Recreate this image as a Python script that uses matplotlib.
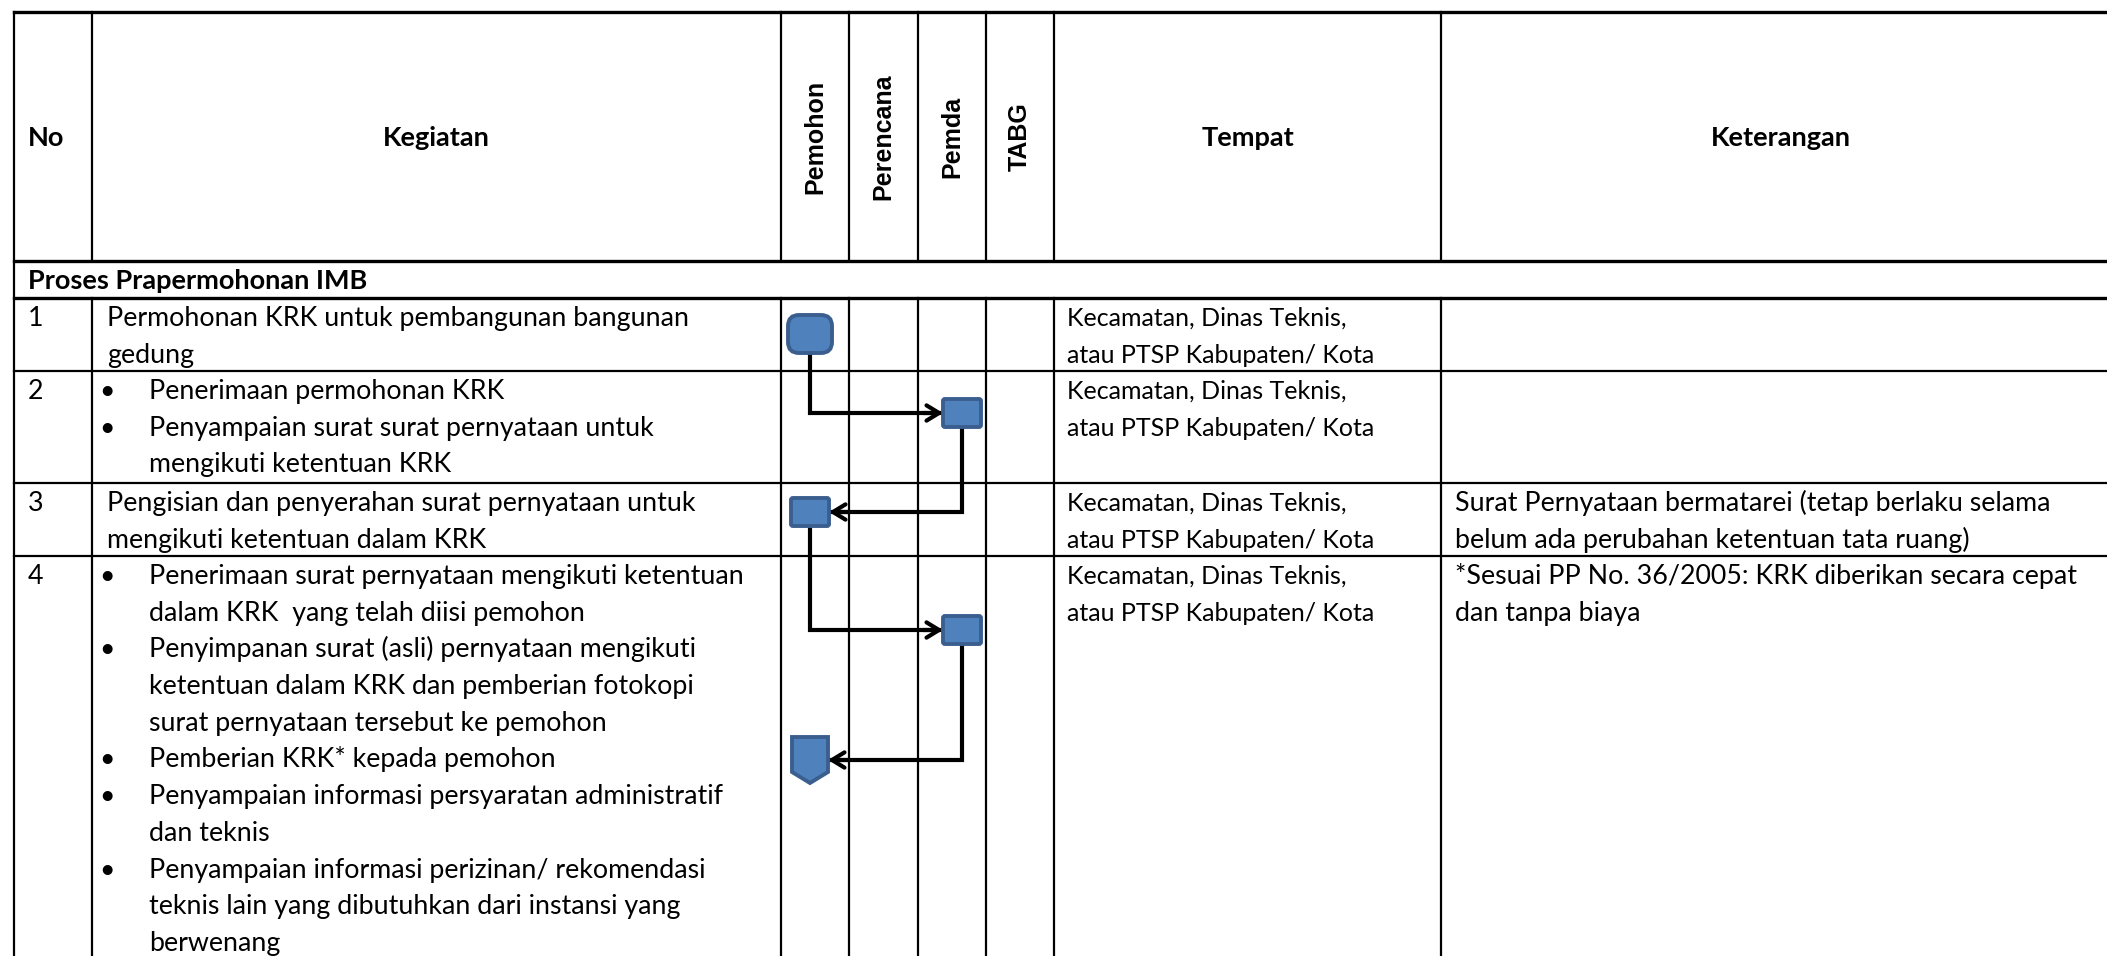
import matplotlib
matplotlib.use("Agg")
import matplotlib.pyplot as plt
from matplotlib.patches import FancyBboxPatch, Polygon

# --- table content ---
headers = ["No", "Kegiatan", "Tempat", "Keterangan"]
lanes = ["Pemohon", "Perencana", "Pemda", "TABG"]
section = "Proses Prapermohonan IMB"

nos = ["1", "2", "3", "4"]
kegiatan = [
    ["Permohonan KRK untuk pembangunan bangunan", "gedung"],
    [("•", "Penerimaan permohonan KRK"),
     ("•", "Penyampaian surat surat pernyataan untuk"),
     ("", "mengikuti ketentuan KRK")],
    ["Pengisian dan penyerahan surat pernyataan untuk", "mengikuti ketentuan dalam KRK"],
    [("•", "Penerimaan surat pernyataan mengikuti ketentuan"),
     ("", "dalam KRK  yang telah diisi pemohon"),
     ("•", "Penyimpanan surat (asli) pernyataan mengikuti"),
     ("", "ketentuan dalam KRK dan pemberian fotokopi"),
     ("", "surat pernyataan tersebut ke pemohon"),
     ("•", "Pemberian KRK* kepada pemohon"),
     ("•", "Penyampaian informasi persyaratan administratif"),
     ("", "dan teknis"),
     ("•", "Penyampaian informasi perizinan/ rekomendasi"),
     ("", "teknis lain yang dibutuhkan dari instansi yang"),
     ("", "berwenang")],
]
tempat = [["Kecamatan, Dinas Teknis,", "atau PTSP Kabupaten/ Kota"]] * 4
keterangan = [
    [],
    [],
    ["Surat Pernyataan bermatarei (tetap berlaku selama",
     "belum ada perubahan ketentuan tata ruang)"],
    ["*Sesuai PP No. 36/2005: KRK diberikan secara cepat", "dan tanpa biaya"],
]

# flow steps: (row, lane, shape)
steps = [
    (0, "Pemohon", "start"),
    (1, "Pemda", "process"),
    (2, "Pemohon", "process"),
    (3, "Pemda", "process"),
    (3, "Pemohon", "offpage"),
]
# vertical position of each step inside its row (pixels from row top)
step_dy = [36, 42, 29, 74, 204]

# --- layout (pixels) ---
W, H = 2107, 956
col_x = [14, 92, 781, 849, 918, 986, 1054, 1441, 2121]
head_top, head_bot, sec_bot = 12, 261, 298
row_y = [298, 371, 483, 556, 990]
line_h = 36.7

plt.rcParams['font.family'] = ['Lato', 'DejaVu Sans']
fig = plt.figure(figsize=(W / 100, H / 100), dpi=100)
ax = fig.add_axes([0, 0, 1, 1])
ax.set_xlim(0, W)
ax.set_ylim(H, 0)
ax.axis("off")

lw_thin, lw_thick = 1.6, 2.4
k = "black"
# horizontal lines
ax.plot([col_x[0], col_x[-1]], [head_top, head_top], color=k, lw=lw_thick)
ax.plot([col_x[0], col_x[-1]], [head_bot, head_bot], color=k, lw=lw_thick)
ax.plot([col_x[0], col_x[-1]], [sec_bot, sec_bot], color=k, lw=lw_thick)
for y in row_y[1:-1]:
    ax.plot([col_x[0], col_x[-1]], [y, y], color=k, lw=lw_thin)
# vertical lines
ax.plot([col_x[0], col_x[0]], [head_top, H], color=k, lw=lw_thin)
for x in col_x[1:-1]:
    ax.plot([x, x], [head_top, head_bot], color=k, lw=lw_thin)
    ax.plot([x, x], [sec_bot, H], color=k, lw=lw_thin)

fs_head = 19.5
fs_keg, fs_tmp, fs_ket = 19.3, 18, 19.3
# headers
ax.text(28, 146, headers[0], fontsize=fs_head, fontweight="bold", va="baseline")
ax.text((col_x[1] + col_x[2]) / 2, 146, headers[1], fontsize=fs_head, fontweight="bold",
        va="baseline", ha="center")
ax.text((col_x[6] + col_x[7]) / 2, 146, headers[2], fontsize=fs_head, fontweight="bold",
        va="baseline", ha="center")
ax.text((col_x[7] + col_x[8]) / 2, 146, headers[3], fontsize=fs_head, fontweight="bold",
        va="baseline", ha="center")
for i, name in enumerate(lanes):
    ax.text((col_x[2 + i] + col_x[3 + i]) / 2, (head_top + head_bot) / 2, name,
            rotation=90, fontsize=18, fontweight="bold", family="Liberation Sans",
            ha="center", va="center")
ax.text(28, 289, section, fontsize=fs_head, fontweight="bold", va="baseline")

# rows
for r in range(len(nos)):
    base = row_y[r] + 28
    ax.text(28, base, nos[r], fontsize=fs_keg, va="baseline")
    for i, item in enumerate(kegiatan[r]):
        y = base + i * line_h
        if isinstance(item, tuple):
            b, t = item
            if b:
                ax.text(107, y, b, fontsize=fs_keg, va="baseline", ha="center")
            ax.text(149, y, t, fontsize=fs_keg, va="baseline")
        else:
            ax.text(107, y, item, fontsize=fs_keg, va="baseline")
    for i, t in enumerate(tempat[r]):
        ax.text(1067, base + i * line_h, t, fontsize=fs_tmp, va="baseline")
    for i, t in enumerate(keterangan[r]):
        ax.text(1455, base + i * line_h, t, fontsize=fs_ket, va="baseline")

# flow shapes
fill, edge = "#4F81BD", "#3A5F8F"
centers = []
half = {"start": (22, 19), "process": (19, 14), "offpage": (18, 23)}
for (r, lane, shape), dy in zip(steps, step_dy):
    li = lanes.index(lane)
    cx = (col_x[2 + li] + col_x[3 + li]) / 2 - 5 * (lane == "Pemohon") + 10 * (lane == "Pemda")
    cy = row_y[r] + dy
    hw, hh = half[shape]
    centers.append((cx, cy, hw, hh))
    if shape == "start":
        p = FancyBboxPatch((cx - hw, cy - hh), 2 * hw, 2 * hh,
                           boxstyle="round,pad=0,rounding_size=11",
                           fc=fill, ec=edge, lw=2.8, zorder=5)
        ax.add_patch(p)
    elif shape == "process":
        p = FancyBboxPatch((cx - hw, cy - hh), 2 * hw, 2 * hh,
                           boxstyle="round,pad=0,rounding_size=2",
                           fc=fill, ec=edge, lw=2.8, zorder=5)
        ax.add_patch(p)
    else:
        pts = [(cx - hw, cy - hh), (cx + hw, cy - hh), (cx + hw, cy + hh - 11),
               (cx, cy + hh), (cx - hw, cy + hh - 11)]
        ax.add_patch(Polygon(pts, closed=True, fc=fill, ec=edge, lw=2.8, zorder=5))

# connectors: down from source, then across to target
for a, b in zip(centers[:-1], centers[1:]):
    sx, sy, shw, shh = a
    tx, ty, thw, thh = b
    end_x = tx - thw if tx > sx else tx + thw
    ax.plot([sx, sx, end_x], [sy + shh, ty, ty], color=k, lw=3, zorder=4,
            solid_joinstyle="miter")
    ax.annotate("", xy=(end_x, ty), xytext=(end_x - 20 * (1 if tx > sx else -1), ty),
                arrowprops=dict(arrowstyle="->,head_length=0.9,head_width=0.55",
                                color=k, lw=3, shrinkA=0, shrinkB=0), zorder=4)

fig.savefig("out.png", dpi=100)
